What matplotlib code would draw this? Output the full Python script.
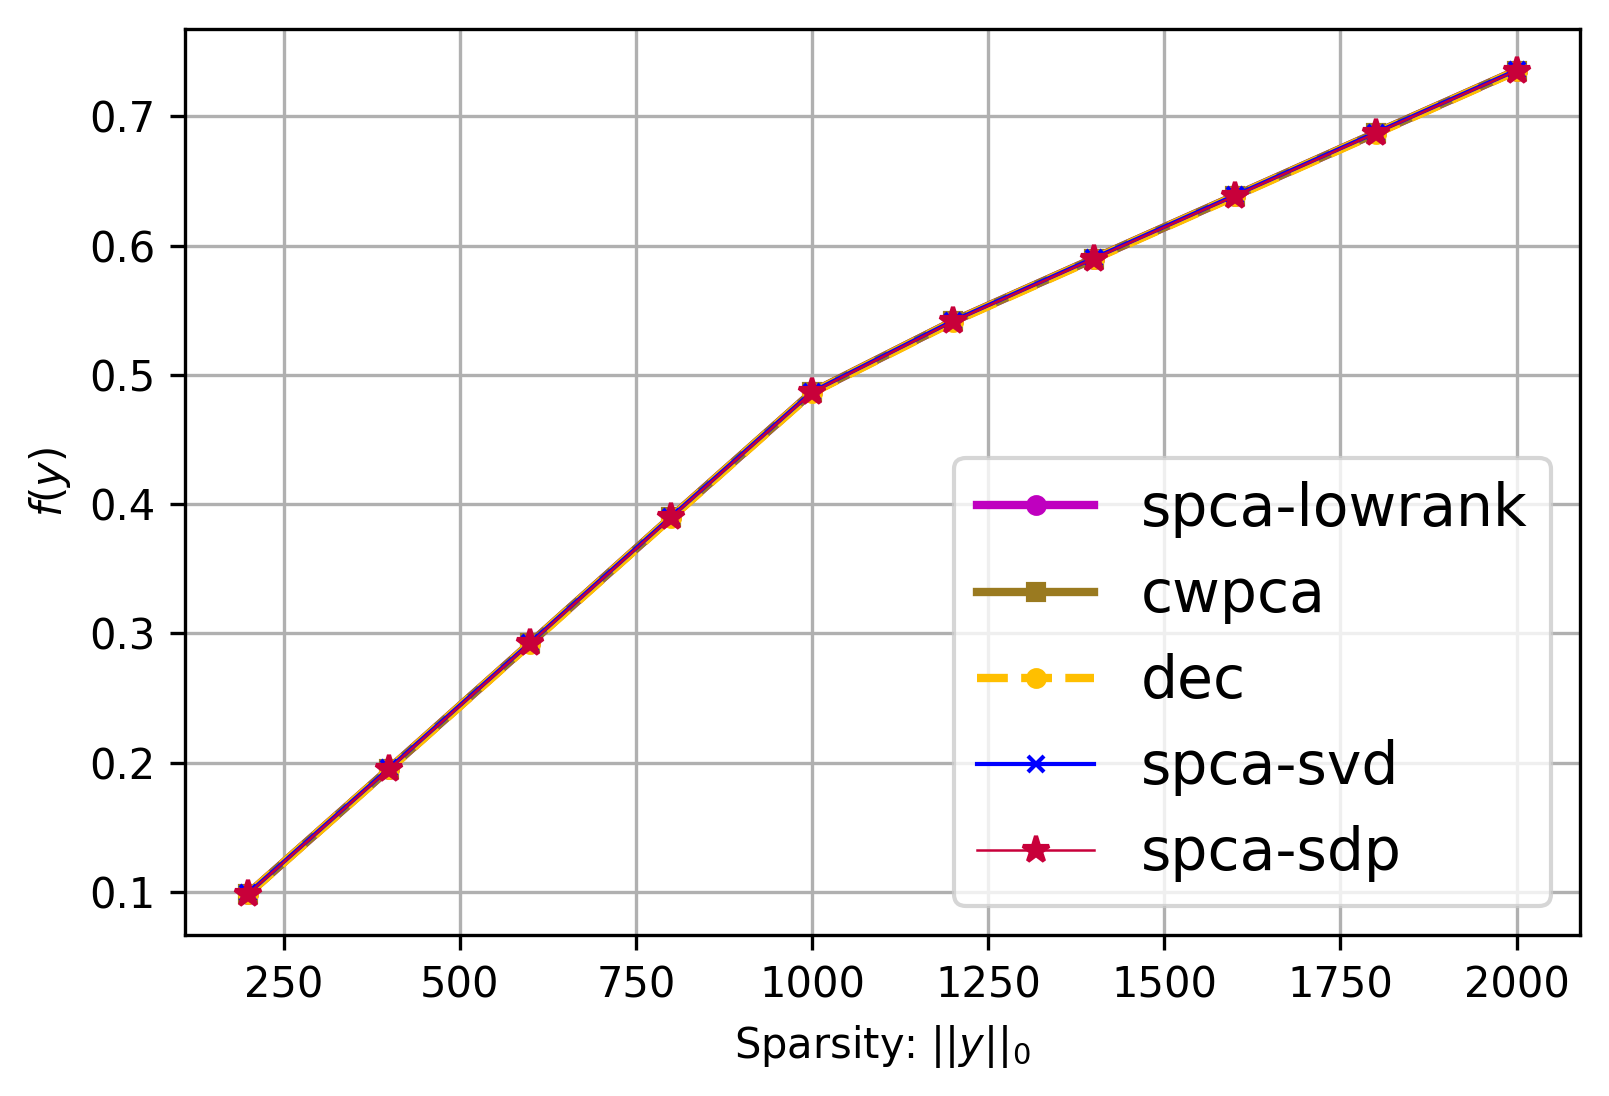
import matplotlib
matplotlib.use("Agg")
import matplotlib.pyplot as plt

sparsity = [200, 400, 600, 800, 1000, 1200, 1400, 1600, 1800, 2000]
f_lowrank = [0.0987, 0.1953, 0.2924, 0.3898, 0.4865, 0.5414, 0.5900, 0.6385, 0.6871, 0.7355]
f_cwpca   = [0.0987, 0.1953, 0.2924, 0.3898, 0.4865, 0.5414, 0.5900, 0.6385, 0.6871, 0.7355]
f_dec     = [0.0985, 0.1950, 0.2920, 0.3894, 0.4861, 0.5410, 0.5896, 0.6381, 0.6867, 0.7352]
f_svd     = [0.0990, 0.1957, 0.2928, 0.3902, 0.4869, 0.5418, 0.5904, 0.6389, 0.6875, 0.7358]
f_sdp     = [0.0987, 0.1953, 0.2924, 0.3898, 0.4865, 0.5414, 0.5900, 0.6385, 0.6871, 0.7355]
labels = ["spca-lowrank", "cwpca", "dec", "spca-svd", "spca-sdp"]

fig = plt.figure(figsize=(1610/300, 1096/300), dpi=300)
ax = fig.add_axes([185/1610, 1-935/1096, (1580-185)/1610, (935-29)/1096])

ax.plot(sparsity, f_lowrank, color="#BF00BF", marker="o", lw=2, ms=4, label=labels[0])
ax.plot(sparsity, f_cwpca, color="#9A7A20", marker="s", lw=2, ms=4, label=labels[1])
ax.plot(sparsity, f_dec, color="#FFBF00", marker="o", ls="--", lw=2, ms=4, label=labels[2])
ax.plot(sparsity, f_svd, color="#0000FF", marker="x", lw=1, ms=4, label=labels[3])
ax.plot(sparsity, f_sdp, color="#C8003A", marker="*", lw=0.6, ms=6.5, label=labels[4])

ax.grid(True)
ax.set_xlabel("Sparsity: $||y||_0$")
ax.set_ylabel("$f(y)$")
ax.legend(loc="lower right", fontsize=14)

fig.savefig("out.png", dpi=300)
